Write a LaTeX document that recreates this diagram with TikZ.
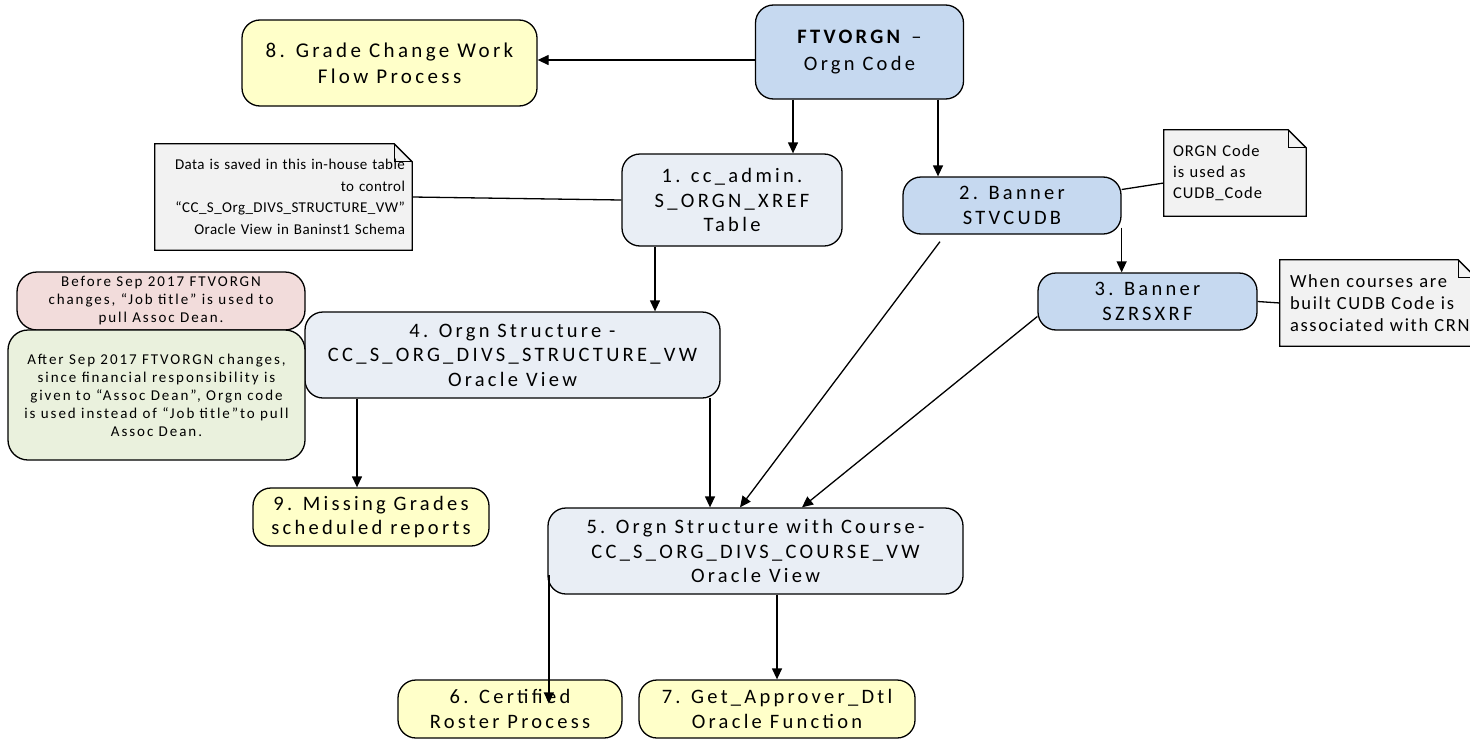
\documentclass[tikz,border=0pt]{standalone}
\usepackage{fontspec}
\setmainfont{Carlito}
\newfontfamily\bxfont{Carlito}[LetterSpace=16]
\newfontfamily\dnfont{Carlito}[LetterSpace=3]
\newfontfamily\onfont{Carlito}[LetterSpace=6]
\newfontfamily\wnfont{Carlito}[LetterSpace=9]
\newfontfamily\sdfont{Carlito}[LetterSpace=13]
\usetikzlibrary{arrows.meta,backgrounds}
\definecolor{cyel}{HTML}{FFFFC9}
\definecolor{cblue}{HTML}{C6D9F0}
\definecolor{cpale}{HTML}{E9EEF5}
\definecolor{cnote}{HTML}{F2F2F2}
\definecolor{cpink}{HTML}{F2DCDB}
\definecolor{cgreen}{HTML}{EAF1DD}
\tikzset{
  box/.style={draw=black, line width=1.3pt, rounded corners=18pt, align=center,
    inner sep=0pt, font=\bxfont\fontsize{20.5}{24.5}\selectfont},
  bigbox/.style={font=\bxfont\fontsize{21}{26}\selectfont},
  yel/.style={box, fill=cyel},
  blu/.style={box, fill=cblue},
  pale/.style={box, fill=cpale},
  side/.style={draw=black, line width=1.3pt, rounded corners=20pt, align=center,
    inner sep=0pt, font=\sdfont\fontsize{15}{18}\selectfont},
  notetxt/.style={inner ysep=0pt},
  notebg/.style={fill=cnote, draw=black, line width=1.3pt},
  arr/.style={line width=1.3pt, -{Triangle[length=11pt,width=10pt]}},
  ln/.style={line width=1.3pt},
}
\newcommand{\foldnote}[2][18pt]{%
  \begin{pgfonlayer}{background}
  \draw[notebg] (#2.south west) -- (#2.south east) -- ([yshift=-#1]#2.north east)
     -- ([xshift=-#1]#2.north east) -- (#2.north west) -- cycle;
  \draw[ln] ([xshift=-#1]#2.north east) -- ([xshift=-#1,yshift=-#1]#2.north east)
     -- ([yshift=-#1]#2.north east);
  \end{pgfonlayer}}
\begin{document}
\begin{tikzpicture}[x=1pt,y=-1pt]
\useasboundingbox (0,0) rectangle (1470,739);
\begin{pgfonlayer}{background}
\fill[white] (0,0) rectangle (1470,739);
\end{pgfonlayer}
\clip (0,0) rectangle (1470,739);

% main boxes
\node[yel, bigbox, minimum width=295pt, minimum height=86pt] (g8) at (389.5,63) {8. Grade Change Work\\Flow Process};
\node[blu, minimum width=208pt, minimum height=94pt] (ftv) at (859.5,52) {\textbf{FTVORGN} –\\[3pt]Orgn Code};
\node[pale, minimum width=220pt, minimum height=92pt] (cc1) at (732,200) {1. cc\_admin.\\S\_ORGN\_XREF\\Table};
\node[blu, minimum width=218pt, minimum height=57pt] (b2) at (1012,205.5) {2. Banner\\STVCUDB};
\node[blu, minimum width=219pt, minimum height=57pt] (b3) at (1147.5,301.5) {3. Banner\\SZRSXRF};
\node[pale, minimum width=415pt, minimum height=86pt] (n4) at (512.5,355) {4. Orgn Structure -\\CC\_S\_ORG\_DIVS\_STRUCTURE\_VW\\Oracle View};
\node[yel, minimum width=236pt, minimum height=58pt] (n9) at (371,517) {9. Missing Grades\\scheduled reports};
\node[pale, minimum width=415pt, minimum height=86pt] (n5) at (755.5,551) {5. Orgn Structure with Course-\\CC\_S\_ORG\_DIVS\_COURSE\_VW\\Oracle View};
\node[yel, minimum width=224pt, minimum height=58pt] (n6) at (510,709) {6. Certified\\Roster Process};
\node[yel, minimum width=276pt, minimum height=58pt] (n7) at (777,709) {7. Get\_Approver\_Dtl\\Oracle Function};

% side notes
\node[side, fill=cpink, minimum width=288pt, minimum height=58pt] (pk) at (161,301)
  {Before Sep 2017 FTVORGN\\changes, “Job title” is used to\\pull Assoc Dean.};
\node[side, fill=cgreen, minimum width=297pt, minimum height=130pt] (gr) at (156.5,395)
  {After Sep 2017 FTVORGN changes,\\since financial responsibility is\\given to “Assoc Dean”,  Orgn code\\is used instead of “Job title”to pull\\Assoc Dean.};

% folded notes
\node[notetxt, inner xsep=7pt, minimum width=257pt, minimum height=106pt, text width=243pt, align=right,
  font=\dnfont\fontsize{15}{21.5}\selectfont] (dn) at (283.5,197)
  {Data is saved in this in-house table\\to control\\“CC\_S\_Org\_DIVS\_STRUCTURE\_VW”\\Oracle View in Baninst1 Schema};
\foldnote{dn}
\node[notetxt, inner xsep=9pt, minimum width=142pt, minimum height=86pt, text width=124pt, align=left,
  font=\onfont\fontsize{16.5}{21}\selectfont] (on) at (1235,173)
  {ORGN Code\\is used as\\CUDB\_Code};
\foldnote{on}
\node[notetxt, inner xsep=10pt, minimum width=196pt, minimum height=86pt, text width=176pt, align=left,
  font=\wnfont\fontsize{18.5}{22}\selectfont] (wn) at (1378,303)
  {\mbox{When courses are}\\\mbox{built CUDB Code is}\\\mbox{associated with CRN}};
\foldnote{wn}

% connectors
\draw[arr] ([yshift=-8pt]ftv.west) -- ([yshift=-8pt]ftv.west -| g8.east);
\draw[arr] ([xshift=-66.5pt]ftv.south) -- ([xshift=-66.5pt]ftv.south |- cc1.north);
\draw[arr] ([xshift=78.5pt]ftv.south) -- ([xshift=78.5pt]ftv.south |- b2.north);
\draw[arr] ([xshift=-77pt]cc1.south) -- ([xshift=-77pt]cc1.south |- n4.north);
\draw[arr] ([yshift=7pt]b2.south east) -- (b2.east |- b3.north);
\draw[arr] ([xshift=-155.5pt]n4.south) -- ([xshift=-155.5pt]n4.south |- n9.north);
\draw[arr] ([xshift=197.5pt,yshift=1pt]n4.south) -- ([xshift=197.5pt]n4.south |- n5.north);
\draw[arr] ([xshift=-72pt,yshift=-7pt]b2.south) -- ([xshift=-15.5pt]n5.north);
\draw[arr] ([yshift=-15pt]b3.west) -- ([xshift=46.5pt]n5.north);
\draw[arr] ([xshift=1.5pt,yshift=-24pt]n5.west) -- ([xshift=1.5pt,yshift=-24pt]n5.west |- n6.north);
\draw[arr] ([xshift=21.5pt]n5.south) -- ([xshift=21.5pt]n5.south |- n7.north);
\draw[ln] (dn.east) -- (cc1.west);
\draw[ln] ([yshift=16pt]b2.east) -- ([yshift=-10pt]on.west);
\draw[ln] (b3.east) -- (wn.west);
\end{tikzpicture}
\end{document}
